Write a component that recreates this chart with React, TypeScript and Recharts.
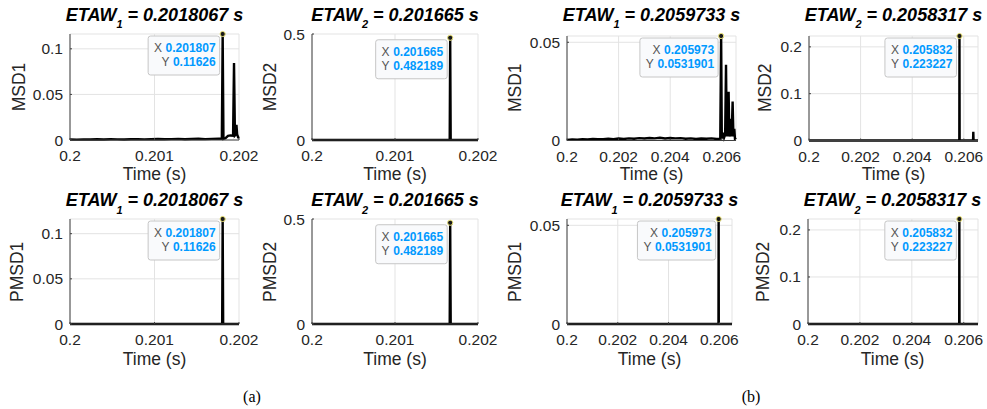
import React from 'react';
import { LineChart, Line, XAxis, YAxis, CartesianGrid, ReferenceDot } from 'recharts';

const FONT = '"Liberation Sans", Arial, Helvetica, sans-serif';

// ---- data (time in s) ----
const msd1aTime = [0.2, 0.20008, 0.20016, 0.20024, 0.20032, 0.2004, 0.20048, 0.20056, 0.20064, 0.20072, 0.2008, 0.20088, 0.20096, 0.20104, 0.20112, 0.2012, 0.20128, 0.20136, 0.20144, 0.20152, 0.2016, 0.20168, 0.20176, 0.201797, 0.2018067, 0.201816, 0.20184, 0.20187, 0.2019, 0.20193, 0.201941, 0.201952, 0.201962, 0.20197, 0.201978, 0.20199, 0.202];
const msd1aValue = [0.0006, 0.0004, 0.0007, 0.0005, 0.0008, 0.0006, 0.0009, 0.0007, 0.0005, 0.0008, 0.001, 0.0007, 0.0009, 0.0011, 0.0008, 0.001, 0.0012, 0.0009, 0.0011, 0.0013, 0.001, 0.0012, 0.0014, 0.0015, 0.11626, 0.0012, 0.002, 0.0045, 0.005, 0.0048, 0.0843, 0.005, 0.006, 0.0165, 0.006, 0.003, 0.002];

const msd2aTime = [0.2, 0.2005, 0.201, 0.2015, 0.201659, 0.201665, 0.201671, 0.20185, 0.202];
const msd2aValue = [0, 0, 0, 0, 0, 0.482189, 0, 0, 0];

const msd1bTime = [0.2, 0.2002, 0.2004, 0.2006, 0.2008, 0.201, 0.2012, 0.2014, 0.2016, 0.2018, 0.202, 0.2022, 0.2024, 0.2026, 0.2028, 0.203, 0.2032, 0.2034, 0.2036, 0.2038, 0.204, 0.2042, 0.2044, 0.2046, 0.2048, 0.205, 0.2052, 0.2054, 0.2056, 0.2058, 0.20594, 0.2059733, 0.206, 0.20605, 0.20609, 0.20613, 0.206163, 0.20619, 0.206225, 0.206245, 0.206264, 0.20629, 0.20632, 0.206357, 0.20638, 0.206419, 0.20645, 0.206484, 0.20651, 0.20655];
const msd1bValue = [0.0003, 0.0005, 0.0004, 0.0006, 0.0005, 0.0008, 0.0006, 0.0007, 0.0009, 0.0007, 0.001, 0.0008, 0.0011, 0.0009, 0.0012, 0.001, 0.0013, 0.0011, 0.0014, 0.001, 0.0013, 0.0011, 0.0012, 0.0009, 0.0011, 0.0008, 0.001, 0.0009, 0.0011, 0.0008, 0.0009, 0.0531901, 0.001, 0.004, 0.0015, 0.003, 0.0385, 0.002, 0.014, 0.002, 0.0248, 0.002, 0.006, 0.011, 0.002, 0.0198, 0.002, 0.006, 0.001, 0.0015];

const msd2bTime = [0.2, 0.202, 0.204, 0.2058, 0.2058257, 0.2058317, 0.2058377, 0.2061, 0.206358, 0.206368, 0.206378, 0.20655];
const msd2bValue = [0, 0, 0, 0, 0, 0.223227, 0, 0, 0, 0.0185, 0, 0];

const pmsd1aTime = [0.2, 0.2018007, 0.2018067, 0.2018127, 0.202];
const pmsd1aValue = [0, 0, 0.11626, 0, 0];
const pmsd2aTime = [0.2, 0.201659, 0.201665, 0.201671, 0.202];
const pmsd2aValue = [0, 0, 0.482189, 0, 0];
const pmsd1bTime = [0.2, 0.2059673, 0.2059733, 0.2059793, 0.2065];
const pmsd1bValue = [0, 0, 0.0531901, 0, 0];
const pmsd2bTime = [0.2, 0.2058257, 0.2058317, 0.2058377, 0.20655];
const pmsd2bValue = [0, 0, 0.223227, 0, 0];

// ETAW estimates (title) and peak picks (data tips)
const etawIndex = [1, 2, 1, 2, 1, 2, 1, 2];
const etawText = ['0.2018067', '0.201665', '0.2059733', '0.2058317', '0.2018067', '0.201665', '0.2059733', '0.2058317'];
const peakTime = [0.2018067, 0.201665, 0.2059733, 0.2058317, 0.2018067, 0.201665, 0.2059733, 0.2058317];
const peakValue = [0.11626, 0.482189, 0.0531901, 0.223227, 0.11626, 0.482189, 0.0531901, 0.223227];

const yLabels = ['MSD1', 'MSD2', 'MSD1', 'MSD2', 'PMSD1', 'PMSD2', 'PMSD1', 'PMSD2'];
const seriesTime = [msd1aTime, msd2aTime, msd1bTime, msd2bTime, pmsd1aTime, pmsd2aTime, pmsd1bTime, pmsd2bTime];
const seriesValue = [msd1aValue, msd2aValue, msd1bValue, msd2bValue, pmsd1aValue, pmsd2aValue, pmsd1bValue, pmsd2bValue];

const xTicksA = [0.2, 0.201, 0.202];
const xTicksB = [0.2, 0.202, 0.204, 0.206];
const xTicks = [xTicksA, xTicksA, xTicksB, xTicksB, xTicksA, xTicksA, xTicksB, xTicksB];
const xMax = [0.202, 0.202, 0.20655, 0.20655, 0.202, 0.202, 0.2065, 0.20655];
const yTicks = [
  [0, 0.05, 0.1], [0, 0.5], [0, 0.05], [0, 0.1, 0.2],
  [0, 0.05, 0.1], [0, 0.5], [0, 0.05], [0, 0.1, 0.2],
];
const yMax = [0.11626, 0.5, 0.0531901, 0.223227, 0.11626, 0.5, 0.0531901, 0.223227];

// ---- layout ----
const plotBoxes = [
  { left: 70, top: 34, width: 169, height: 106 },
  { left: 312, top: 34, width: 166, height: 106 },
  { left: 567, top: 35.5, width: 169, height: 104.5 },
  { left: 809, top: 35.5, width: 169, height: 104.5 },
  { left: 70, top: 219.3, width: 169, height: 105 },
  { left: 312, top: 219.3, width: 166, height: 105 },
  { left: 567, top: 219.3, width: 165, height: 105 },
  { left: 807.5, top: 219.3, width: 170, height: 105 },
];
const yLabelX = [18.5, 270, 515, 765, 16.7, 270, 515, 763];

const ML = 60;
const MT = 10;
const MR = 28;
const MB = 30;

const fmt = (v: number) => String(Number(v.toPrecision(6)));

function rowWidth(s: string) {
  let w = 8 + 3.5;
  for (const c of s) w += c === '.' ? 3.34 : 6.67;
  return w;
}

function DataTip({ cx, cy, tx, ty }: { cx: number; cy: number; tx: string; ty: string }) {
  const w = Math.max(rowWidth(tx), rowWidth(ty)) + 10;
  const right = cx - 3;
  const top = cy + 2;
  return (
    <g>
      <rect x={right - w} y={top} width={w} height={39} rx={2.5} fill="#f9fafc" stroke="#c6c6c6" strokeWidth={1} />
      <text x={right - 4} y={top + 16} textAnchor="end" fontFamily={FONT} fontSize={12}>
        <tspan fill="#555555">X</tspan>
        <tspan dx={3.5} fill="#0099ff" fontWeight="bold">{tx}</tspan>
      </text>
      <text x={right - 4} y={top + 30} textAnchor="end" fontFamily={FONT} fontSize={12}>
        <tspan fill="#555555">Y</tspan>
        <tspan dx={3.5} fill="#0099ff" fontWeight="bold">{ty}</tspan>
      </text>
      <circle cx={cx} cy={cy} r={2.6} fill="#1a1a1a" stroke="#ece47a" strokeWidth={1} />
    </g>
  );
}

const axisStroke = '#404040';
const tickStyle = { fill: '#262626', fontSize: 15.5, fontFamily: FONT };

function Panel({ i }: { i: number }) {
  const box = plotBoxes[i];
  const data = seriesTime[i].map((t, k) => ({ t, v: seriesValue[i][k] }));
  const xDomain: [number, number] = [0.2, xMax[i]];
  const yDomain: [number, number] = [0, yMax[i]];
  return (
    <div style={{ position: 'absolute', left: box.left - ML, top: box.top - MT }}>
      <LineChart
        width={box.width + ML + MR}
        height={box.height + MT + MB}
        data={data}
        margin={{ top: MT, right: MR, bottom: 0, left: 0 }}
      >
        <CartesianGrid stroke="#e3e3e3" strokeWidth={1} />
        <XAxis
          dataKey="t"
          type="number"
          domain={xDomain}
          ticks={xTicks[i]}
          interval={0}
          height={MB}
          tickSize={-2}
          tickMargin={12}
          axisLine={{ stroke: axisStroke }}
          tickLine={{ stroke: axisStroke }}
          tick={tickStyle}
        />
        <XAxis
          xAxisId="top"
          orientation="top"
          type="number"
          domain={xDomain}
          ticks={xTicks[i]}
          interval={0}
          height={0}
          tickSize={-2}
          tick={false}
          axisLine={{ stroke: axisStroke }}
          tickLine={{ stroke: axisStroke }}
        />
        <YAxis
          type="number"
          domain={yDomain}
          ticks={yTicks[i]}
          interval={0}
          width={ML}
          tickSize={-2}
          tickMargin={9}
          axisLine={{ stroke: axisStroke }}
          tickLine={{ stroke: axisStroke }}
          tick={tickStyle}
        />
        <YAxis
          yAxisId="right"
          orientation="right"
          type="number"
          domain={yDomain}
          ticks={yTicks[i]}
          interval={0}
          width={0}
          tickSize={-2}
          tick={false}
          axisLine={{ stroke: axisStroke }}
          tickLine={{ stroke: axisStroke }}
        />
        <Line
          type="linear"
          dataKey="v"
          stroke="#000000"
          strokeWidth={2.4}
          dot={false}
          activeDot={false}
          isAnimationActive={false}
        />
        <ReferenceDot
          x={peakTime[i]}
          y={peakValue[i]}
          r={2.6}
          ifOverflow="visible"
          shape={(p: any) => (
            <DataTip cx={p.cx} cy={p.cy} tx={fmt(peakTime[i])} ty={fmt(peakValue[i])} />
          )}
        />
      </LineChart>
    </div>
  );
}

export default function App() {
  const ids = [0, 1, 2, 3, 4, 5, 6, 7];
  return (
    <div style={{ position: 'absolute', left: 0, top: 0, width: 987, height: 409, background: '#fff', overflow: 'hidden' }}>
      {ids.map((i) => (
        <Panel key={i} i={i} />
      ))}
      <svg width={987} height={409} style={{ position: 'absolute', left: 0, top: 0, pointerEvents: 'none' }}>
        {ids.map((i) => {
          const b = plotBoxes[i];
          const row = i < 4 ? 0 : 185.3;
          const cx = b.left + b.width / 2;
          return (
            <g key={i} fill="#262626" fontFamily={FONT}>
              <text x={cx} y={20.7 + row} textAnchor="middle" fontSize={18} fontWeight="bold" fontStyle="italic" fill="#000">
                ETAW
                <tspan dy={7.5} fontSize={11}>{etawIndex[i]}</tspan>
                <tspan dy={-7.5}>{` = ${etawText[i]} s`}</tspan>
              </text>
              <text x={cx} y={180 + row} textAnchor="middle" fontSize={17.5}>
                Time (s)
              </text>
              <text
                transform={`translate(${yLabelX[i] + 6.3}, ${b.top + b.height / 2}) rotate(-90)`}
                textAnchor="middle"
                fontSize={17.5}
              >
                {yLabels[i]}
              </text>
            </g>
          );
        })}
        <text x={252} y={402} textAnchor="middle" fontSize={16} fontFamily='"Liberation Serif", "DejaVu Serif", serif' fill="#000">
          (a)
        </text>
        <text x={751} y={402} textAnchor="middle" fontSize={16} fontFamily='"Liberation Serif", "DejaVu Serif", serif' fill="#000">
          (b)
        </text>
      </svg>
    </div>
  );
}
